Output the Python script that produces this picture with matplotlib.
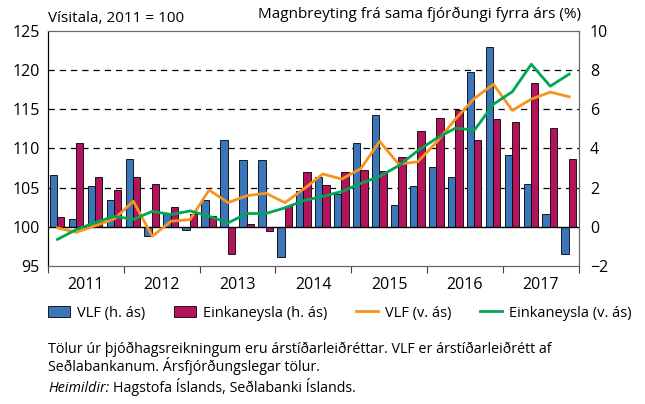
import matplotlib
matplotlib.use("Agg")
import matplotlib.pyplot as plt
import numpy as np
from matplotlib.patches import Patch
from matplotlib.lines import Line2D

plt.rcParams['font.family'] = ['Open Sans', 'DejaVu Sans']

years = ['2011', '2012', '2013', '2014', '2015', '2016', '2017']

# Magnbreyting (%), h. ás -- bars
vlf_pct = [2.63, 0.42, 2.10, 1.37,
           3.47, -0.47, 0.71, -0.15,
           1.36, 4.42, 3.41, 3.39,
           -1.53, 1.81, 2.54, 1.70,
           4.26, 5.73, 1.14, 2.10,
           3.07, 2.56, 7.90, 9.17,
           3.69, 2.19, 0.66, -1.39]
einka_pct = [0.51, 4.27, 2.53, 1.88,
             2.54, 2.19, 1.02, 0.63,
             0.56, -1.37, 0.15, -0.22,
             1.05, 2.81, 2.14, 2.78,
             2.90, 2.85, 3.55, 4.89,
             5.56, 5.94, 4.45, 5.50,
             5.36, 7.33, 5.03, 3.44]

# Vísitala 2011 = 100, v. ás -- lines
vlf_idx = [99.87, 99.3, 100.15, 101.0,
           103.27, 98.8, 100.72, 100.93,
           104.7, 103.09, 103.98, 104.28,
           103.09, 104.83, 106.74, 106.1,
           107.43, 110.9, 108.0, 108.3,
           110.8, 113.76, 116.4, 118.2,
           114.86, 116.3, 117.2, 116.6]
einka_idx = [98.4, 99.66, 100.55, 101.35,
             100.95, 101.97, 101.57, 102.03,
             101.36, 100.5, 101.7, 101.7,
             102.42, 103.35, 103.9, 104.5,
             105.55, 106.45, 107.8, 109.7,
             111.3, 112.6, 112.35, 115.65,
             117.25, 120.75, 117.95, 119.5]

blue = '#3b76bb'
red = '#b3135b'
orange = '#f7941d'
green = '#00a651'

fig = plt.figure(figsize=(6.45, 4.04), dpi=100)
ax2 = fig.add_axes([0.0744, 0.3416, 0.8228, 0.5817])
ax = ax2.twinx()
# lines axis on top of bars
ax.set_zorder(ax2.get_zorder() + 1)
ax.patch.set_visible(False)

x = np.arange(len(vlf_pct))
w = 0.39
ax2.bar(x - 0.215, vlf_pct, w, color=blue, edgecolor='black', linewidth=0.6, zorder=2)
ax2.bar(x + 0.175, einka_pct, w, color=red, edgecolor='black', linewidth=0.6, zorder=2)
for v in [2, 4, 6, 8]:
    ax2.axhline(v, color='black', lw=0.9, dashes=(5, 4), zorder=1)
ax2.axhline(0, color='black', lw=1.0, zorder=3)
ax2.set_ylim(-2, 10)
ax2.set_xlim(-0.5, 27.5)
ax2.yaxis.tick_right()
ax2.set_yticks([-2, 0, 2, 4, 6, 8, 10])
ax2.tick_params(axis='y', length=0, labelsize=11.5, pad=8)

ax.plot(x, vlf_idx, color=orange, lw=2)
ax.plot(x, einka_idx, color=green, lw=2)
ax.set_ylim(95, 125)
ax.yaxis.tick_left()
ax.set_yticks([95, 100, 105, 110, 115, 120, 125])
ax.tick_params(axis='y', length=0, labelsize=11.5, pad=6)

# x axis: year boundaries as ticks, year names centred
for a in (ax, ax2):
    a.set_xticks(np.arange(-0.5, 28, 4))
    a.set_xticklabels([])
    a.tick_params(axis='x', direction='out', length=5, width=0.8, color='#444')
ax2.set_xticks(np.arange(1.5, 28, 4), minor=True)
ax2.set_xticklabels(years, minor=True)
ax2.tick_params(axis='x', which='minor', length=0, labelsize=11.5, pad=8)
ax.tick_params(axis='x', length=0)

for a in (ax, ax2):
    for s in ['top', 'right', 'bottom']:
        a.spines[s].set_color('#666')
    a.spines['left'].set_color('black')

fig.text(0.0744, 0.945, 'Vísitala, 2011 = 100', fontsize=11, ha='left', va='baseline')
fig.text(0.9, 0.955, 'Magnbreyting frá sama fjórðungi fyrra árs (%)', fontsize=11,
         ha='right', va='baseline')

handles = [Patch(facecolor=blue, edgecolor='black', linewidth=0.6),
           Patch(facecolor=red, edgecolor='black', linewidth=0.6),
           Line2D([], [], color=orange, lw=2),
           Line2D([], [], color=green, lw=2)]
labels = ['VLF (h. ás)', 'Einkaneysla (h. ás)', 'VLF (v. ás)', 'Einkaneysla (v. ás)']
fig.legend(handles, labels, loc='center left', bbox_to_anchor=(0.066, 0.225), ncol=4,
           frameon=False, fontsize=10.5, handlelength=1.5, columnspacing=2.0,
           handletextpad=0.45, borderaxespad=0)

fig.text(0.0744, 1 - 353 / 404, 'Tölur úr þjóðhagsreikningum eru árstíðarleiðréttar. '
         'VLF er árstíðarleiðrétt af', fontsize=10.3, ha='left', va='baseline')
fig.text(0.0744, 1 - 371 / 404, 'Seðlabankanum. Ársfjórðungslegar tölur.', fontsize=10.3,
         ha='left', va='baseline')
src = fig.text(0.0744, 1 - 391.5 / 404, 'Heimildir:', fontsize=10.3, ha='left',
               va='baseline', style='italic')
fig.canvas.draw()
bb = src.get_window_extent().transformed(fig.transFigure.inverted())
fig.text(bb.x1 + 0.006, 1 - 391.5 / 404, 'Hagstofa Íslands, Seðlabanki Íslands.',
         fontsize=10.3, ha='left', va='baseline')

fig.savefig('out.png', dpi=100)
